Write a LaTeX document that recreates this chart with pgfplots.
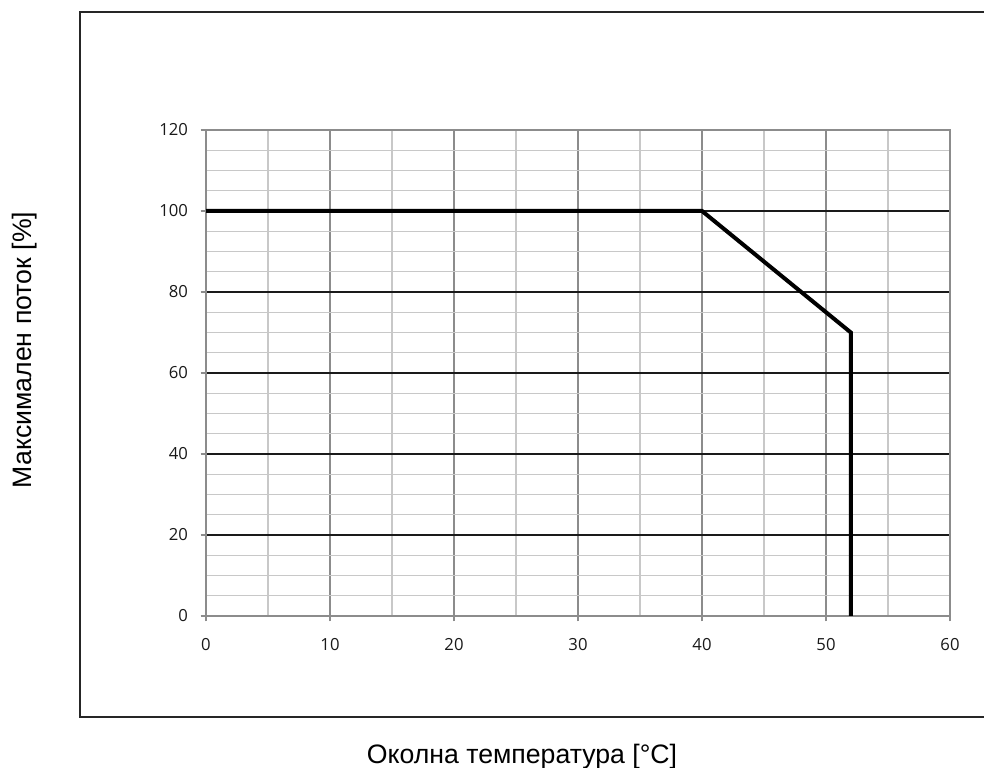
\documentclass[border=0pt]{standalone}
\usepackage{pgfplots}
\pgfplotsset{compat=1.18}
\usepackage{fontspec}
\setmainfont{Liberation Sans}
\newfontfamily\tickfont{Open Sans}
\definecolor{majgrid}{HTML}{8C8C8C}
\definecolor{mingrid}{HTML}{C8C8C8}
\definecolor{ygrid}{HTML}{1A1A1A}
\begin{document}
\begin{tikzpicture}
% page = 984 x 767 px at 0.75pt/px
\useasboundingbox (0pt,0pt) rectangle (738pt,575.25pt);
\begin{scope}
\clip (0pt,0pt) rectangle (738pt,575.25pt);
\draw[line width=1.3pt, black!85] (60pt,37.5pt) rectangle (760pt,566.25pt);
\end{scope}
\begin{axis}[
    at={(154.5pt,113.25pt)},
    anchor=south west,
    scale only axis,
    width=558pt,
    height=364.5pt,
    xmin=0, xmax=60,
    ymin=0, ymax=120,
    xtick={0,10,...,60},
    ytick={0,20,...,120},
    minor x tick num=1,
    minor y tick num=3,
    grid=both,
    major x grid style={majgrid, line width=1.1pt},
    major y grid style={ygrid, line width=1.1pt},
    minor grid style={mingrid, line width=1.1pt},
    axis line style={majgrid, line width=1.5pt},
    tick align=outside,
    tick pos=left,
    major tick length=4pt,
    minor tick length=0pt,
    tick style={majgrid, line width=1.1pt},
    ticklabel style={font=\tickfont\fontsize{12.5}{15}\selectfont, text=black!90},
    /pgf/number format/assume math mode=true,
    xticklabel style={yshift=-9.5pt},
    yticklabel style={xshift=-6pt},
]
\addplot[black, line width=3pt, line join=miter] coordinates {
    (0,100) (40,100) (52,70) (52,0)
};
\end{axis}
\node[rotate=90, font=\fontsize{20}{24}\selectfont] at (18.75pt,312.75pt) {Максимален поток [\%]};
\node[anchor=base, font=\fontsize{20}{24}\selectfont] at (391.5pt,3pt) {Околна температура [°C]};
\end{tikzpicture}
\end{document}
